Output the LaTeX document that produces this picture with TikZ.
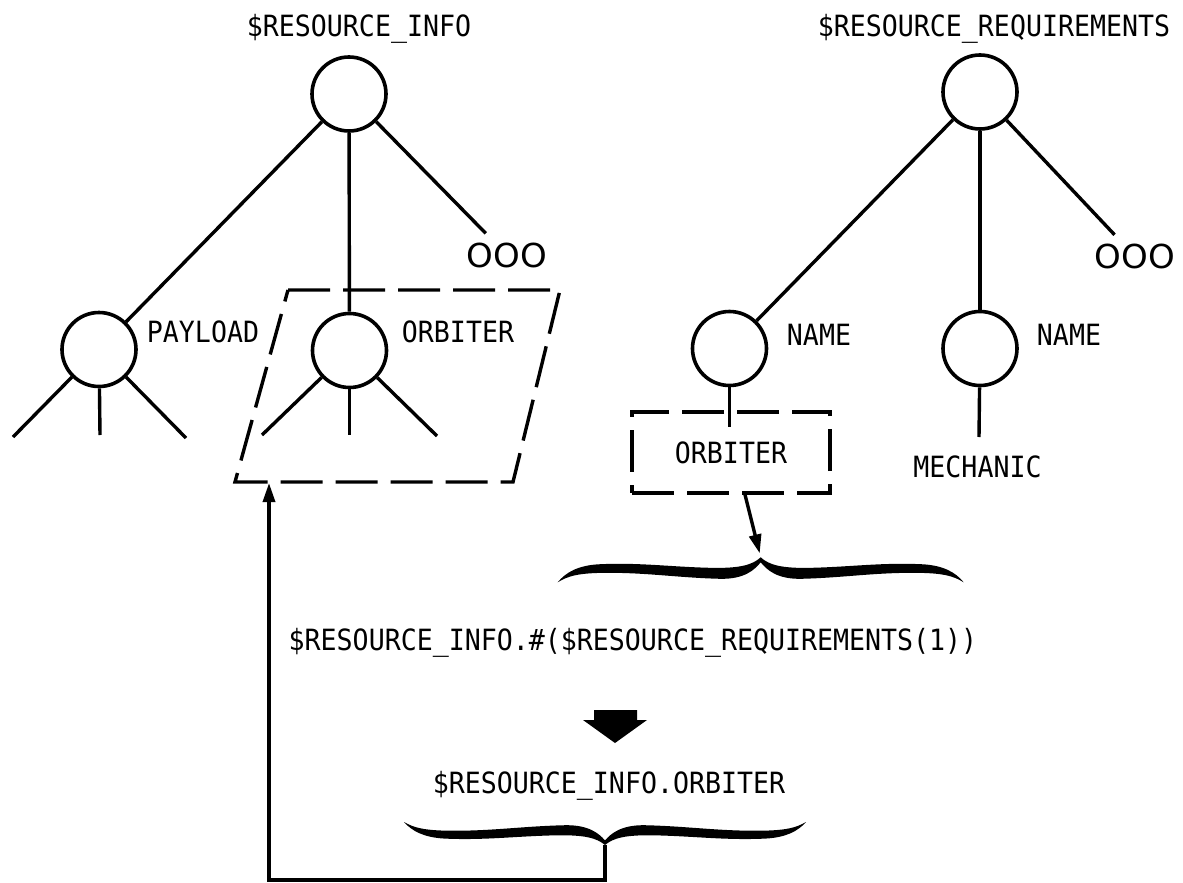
\documentclass[tikz,border=0pt]{standalone}
\usepackage{fontspec}
\usepackage{graphicx}
\usetikzlibrary{arrows.meta}
\newfontfamily\lblfont{DejaVu Sans Mono}
\newfontfamily\ooofont{DejaVu Sans}
% slightly taller lettering
\newcommand{\tall}[1]{\scalebox{1}[1.1]{#1}}
% filled calligraphic brace: tip at (0,0), ends at (-1,1) and (1,1)
\newcommand{\curlybrace}{%
  \fill (0,0) .. controls (0.04,0.3) and (0.1,0.45) .. (0.25,0.42)
     .. controls (0.45,0.38) and (0.6,0.2) .. (0.8,0.28)
     .. controls (0.9,0.33) and (0.96,0.6) .. (1,1)
     .. controls (0.95,0.75) and (0.9,0.62) .. (0.75,0.62)
     .. controls (0.55,0.62) and (0.4,0.82) .. (0.2,0.86)
     .. controls (0.08,0.88) and (0.03,0.5) .. (0,0.2)
     .. controls (-0.03,0.5) and (-0.08,0.88) .. (-0.2,0.86)
     .. controls (-0.4,0.82) and (-0.55,0.62) .. (-0.75,0.62)
     .. controls (-0.9,0.62) and (-0.95,0.75) .. (-1,1)
     .. controls (-0.96,0.6) and (-0.9,0.33) .. (-0.8,0.28)
     .. controls (-0.6,0.2) and (-0.45,0.38) .. (-0.25,0.42)
     .. controls (-0.1,0.45) and (-0.04,0.3) .. (0,0) -- cycle;}

\begin{document}
\begin{tikzpicture}[x=1pt,y=-1pt,
  treenode/.style={circle,draw,line width=3.6pt,minimum size=74pt,inner sep=0pt},
  edge/.style={line width=3.4pt},
  lbl/.style={font=\lblfont\fontsize{26.6}{30}\selectfont,inner sep=0pt,anchor=base},
  dots/.style={font=\ooofont\fontsize{33}{36}\selectfont,inner sep=9pt},
  dashline/.style={line width=3.4pt,dash pattern=on 42pt off 13pt},
  tipped/.style={-{Triangle[length=19pt,width=12pt]}},
]
\useasboundingbox (0,0) rectangle (1183,883);

% ---------- left tree: $RESOURCE_INFO ----------
\node[lbl] (title1) at (359,37) {\tall{\$RESOURCE\_INFO}};
\node[treenode] (root1) at (349,94) {};
\node[treenode] (payload) at (99,349.5) {};
\node[treenode] (orbiter) at (349.5,350.5) {};
\node[dots] (ooo1) at (507,255) {\scalebox{1.03}[1]{OOO}};
\node[lbl] (lblpay) at (203,342) {\tall{PAYLOAD}};
\node[lbl] (lblorb) at (458,342) {\tall{ORBITER}};

\draw[edge] (root1) -- (payload);
\draw[edge] (root1) -- (orbiter);
\draw[edge] (root1) -- (ooo1);

\coordinate (p1) at (13,437);
\coordinate (p2) at (100,435);
\coordinate (p3) at (186,438);
\draw[edge] (payload) -- (p1);
\draw[edge] (payload) -- (p2);
\draw[edge] (payload) -- (p3);

\coordinate (o1) at (262,435);
\coordinate (o2) at (349.5,435);
\coordinate (o3) at (437,436);
\draw[edge] (orbiter) -- (o1);
\draw[edge] (orbiter) -- (o2);
\draw[edge] (orbiter) -- (o3);

% dashed selection round the ORBITER subtree
\coordinate (pga) at (288,290);
\coordinate (pgbb) at (560,290);
\coordinate (pgc) at (513,482);
\coordinate (pgd) at (235,482);
\draw[dashline] (pga) -- (pgbb) -- (pgc) -- (pgd) -- cycle;
\coordinate (pgb) at (269,483);

% ---------- right tree: $RESOURCE_REQUIREMENTS ----------
\node[lbl] (title2) at (994,37) {\tall{\$RESOURCE\_REQUIREMENTS}};
\node[treenode] (root2) at (980,92) {};
\node[treenode] (name1) at (729.5,348.5) {};
\node[treenode] (name2) at (980,348.5) {};
\node[dots] (ooo2) at (1135,256.5) {\scalebox{1.03}[1]{OOO}};
\node[lbl] (lblname1) at (819,345) {\tall{NAME}};
\node[lbl] (lblname2) at (1069,345) {\tall{NAME}};

\draw[edge] (root2) -- (name1);
\draw[edge] (root2) -- (name2);
\draw[edge] (root2) -- (ooo2);

\node[draw,dashline,minimum width=198pt,minimum height=81pt,inner sep=0pt,
      font=\lblfont\fontsize{26.6}{30}\selectfont] (obox) at (731,452.5) {\tall{ORBITER}};
\coordinate (n1stem) at (729.5,427);
\draw[edge] (name1) -- (n1stem);

\node[lbl] (mech) at (977.5,477) {\tall{MECHANIC}};
\coordinate (n2stem) at (979,437);
\draw[edge] (name2) -- (n2stem);

% ---------- evaluation of the reference ----------
\begin{scope}[shift={(760.7,557.3)},xscale=203,yscale=25]
  \curlybrace
\end{scope}
\coordinate (ubtip) at (760.7,557.3);
\draw[edge,tipped,shorten >=4pt] ([xshift=14pt]obox.south) -- (ubtip);

\node[lbl] (expr) at (633,650) {\tall{\$RESOURCE\_INFO.\#(\$RESOURCE\_REQUIREMENTS(1))}};

% block arrow between the two expressions
\fill (594,710) -- (637,710) -- (637,720) -- (647,720) -- (615,743)
      -- (583,720) -- (594,720) -- cycle;

\node[lbl] (result) at (609,793) {\tall{\$RESOURCE\_INFO.ORBITER}};

\begin{scope}[shift={(605,845)},xscale=201,yscale=-23]
  \curlybrace
\end{scope}
\coordinate (lbtip) at (605,845);
\draw[edge,tipped] (lbtip) -- ++(0,35) -| (pgb);
\end{tikzpicture}
\end{document}
